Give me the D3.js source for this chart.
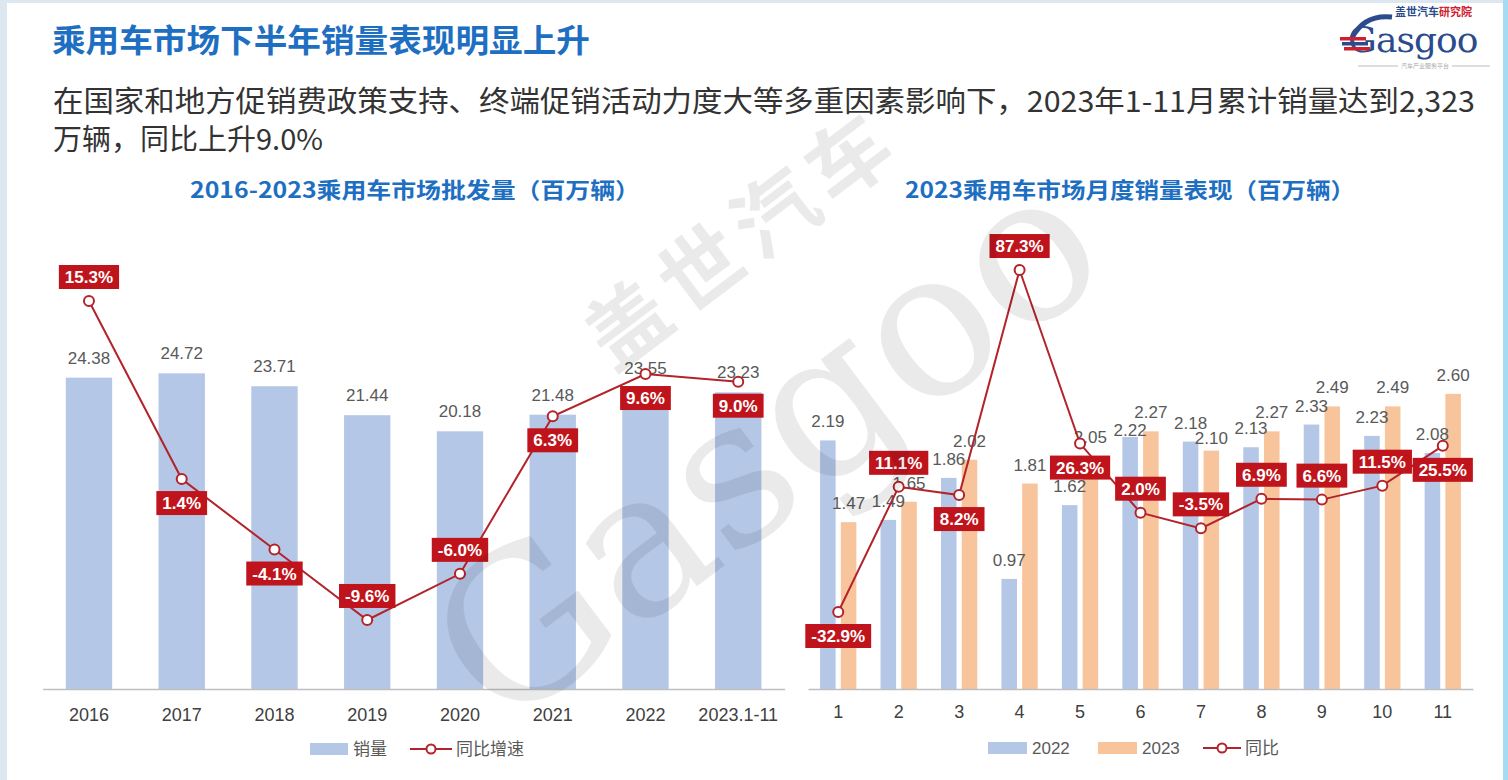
<!DOCTYPE html>
<html><head><meta charset="utf-8">
<script src="https://cdn.jsdelivr.net/npm/d3@7/dist/d3.min.js"></script>
<style>body{margin:0;background:#fff;overflow:hidden} svg{display:block}</style>
</head><body><svg id="c" width="1508" height="780"></svg>
<script>
// ---------- data ----------
const years = ["2016","2017","2018","2019","2020","2021","2022","2023.1-11"];
const yearSales = [24.38,24.72,23.71,21.44,20.18,21.48,23.55,23.23];
const yearGrowth = [15.3,1.4,-4.1,-9.6,-6.0,6.3,9.6,9.0];
const months = ["1","2","3","4","5","6","7","8","9","10","11"];
const sales2022 = [2.19,1.49,1.86,0.97,1.62,2.22,2.18,2.13,2.33,2.23,2.08];
const sales2023 = [1.47,1.65,2.02,1.81,2.05,2.27,2.10,2.27,2.49,2.49,2.60];
const monthGrowth = [-32.9,11.1,8.2,87.3,26.3,2.0,-3.5,6.9,6.6,11.5,25.5];
const seriesNames = ["2022","2023"];
const leftLegend = ["销量","同比增速"];
const rightLegend = ["2022","2023","同比"];
const titleText = "乘用车市场下半年销量表现明显上升";
const subLine1 = "在国家和地方促销费政策支持、终端促销活动力度大等多重因素影响下，2023年1-11月累计销量达到2,323";
const subLine2 = "万辆，同比上升9.0%";
const leftTitle = "2016-2023乘用车市场批发量（百万辆）";
const rightTitle = "2023乘用车市场月度销量表现（百万辆）";
// label placement: -1 above point, +1 below point
const leftLabelSide = [-1,1,1,-1,-1,1,1,1];
const rightLabelSide = [1,-1,1,-1,1,-1,-1,-1,-1,-1,1];

// ---------- style ----------
const NUM = "'Liberation Sans', Arial, 'Noto Sans CJK SC', sans-serif";
const CJK = "'Noto Sans CJK SC', 'Liberation Sans', sans-serif";
const BLUE = "#b4c7e7", ORANGE = "#f8c49c", RED = "#b3232a", BOX = "#c0141c";
const TITLE_BLUE = "#1e6fc2";

const svg = d3.select("#c");
// frame
svg.append("rect").attr("width",1508).attr("height",780).attr("fill","#dce7f0");
svg.append("rect").attr("x",1503).attr("y",0).attr("width",5).attr("height",780).attr("fill","#a6dcf3");
svg.append("rect").attr("x",7).attr("y",3).attr("width",1496).attr("height",777).attr("fill","#ffffff");

// title + subtitle
svg.append("text").attr("x",52).attr("y",52).attr("font-family",CJK).attr("font-weight",700)
  .attr("font-size",32).attr("fill",TITLE_BLUE).attr("textLength",538).attr("lengthAdjust","spacingAndGlyphs").text(titleText);
svg.append("text").attr("x",53).attr("y",112).attr("font-family",CJK)
  .attr("font-size",29).attr("fill","#333").attr("textLength",1422).attr("lengthAdjust","spacingAndGlyphs").text(subLine1);
svg.append("text").attr("x",53).attr("y",150).attr("font-family",CJK)
  .attr("font-size",29).attr("fill","#333").text(subLine2);

// logo
const lg = svg.append("g");
lg.append("path").attr("d","M1352,38 Q1364,14 1392,17").attr("fill","none").attr("stroke","#2b4c8c").attr("stroke-width",5);
lg.append("text").attr("x",1395).attr("y",16).attr("font-family",CJK).attr("font-weight",700).attr("font-size",11)
  .call(t=>{t.append("tspan").attr("fill","#2b4c8c").text("盖世汽车");t.append("tspan").attr("fill","#d0202e").text("研究院");});
lg.append("text").attr("x",1348).attr("y",52).attr("font-family","'DejaVu Serif', serif").attr("font-size",36)
  .attr("fill","#2b4c8c").text("G");
[0,1,2].forEach(i=>lg.append("rect").attr("x",1340+i*2).attr("y",37+i*5).attr("width",26).attr("height",3.5).attr("fill",i===1?"#2b4c8c":"#d0202e"));
lg.append("text").attr("x",1376).attr("y",52).attr("font-family","'DejaVu Serif', serif").attr("font-size",36)
  .attr("fill","#2b4c8c").attr("letter-spacing",-1).text("asgoo");
lg.append("line").attr("x1",1358).attr("x2",1398).attr("y1",66).attr("y2",66).attr("stroke","#bbb");
lg.append("line").attr("x1",1452).attr("x2",1490).attr("y1",66).attr("y2",66).attr("stroke","#bbb");
lg.append("text").attr("x",1425).attr("y",68).attr("text-anchor","middle").attr("font-family",CJK).attr("font-size",6).attr("fill","#aaa").text("汽车产业服务平台");

// chart titles
svg.append("text").attr("x",415).attr("y",198).attr("text-anchor","middle").attr("font-family",CJK).attr("font-weight",700)
  .attr("font-size",22).attr("fill",TITLE_BLUE).attr("textLength",450).attr("lengthAdjust","spacingAndGlyphs").text(leftTitle);
svg.append("text").attr("x",1130).attr("y",198).attr("text-anchor","middle").attr("font-family",CJK).attr("font-weight",700)
  .attr("font-size",22).attr("fill",TITLE_BLUE).attr("textLength",450).attr("lengthAdjust","spacingAndGlyphs").text(rightTitle);

function pctBox(g, x, y, txt, fs){
  const grp = g.append("g");
  const t = grp.append("text").attr("x",x).attr("y",y).attr("dy","0.36em").attr("text-anchor","middle")
    .attr("font-family",NUM).attr("font-weight",700).attr("font-size",fs).attr("fill","#fff").text(txt);
  const w = t.node().getComputedTextLength();
  grp.insert("rect","text").attr("x",x-w/2-6).attr("y",y-12).attr("width",w+12).attr("height",24).attr("fill",BOX);
}
const fmtPct = v => v.toFixed(1)+"%";

// ---------- left chart ----------
const L = svg.append("g");
const xL = d3.scaleBand().domain(years).range([42.6,784.6]).paddingInner(0.5).paddingOuter(0.25);
const yL = d3.scaleLinear().domain([0,30]).range([689,305.9]);
const y2L = d3.scaleLinear().domain([-10,20]).range([625.1,240.8]);

L.selectAll("rect.bar").data(yearSales).join("rect").attr("class","bar")
  .attr("x",(d,i)=>xL(years[i])).attr("width",xL.bandwidth())
  .attr("y",d=>yL(d)).attr("height",d=>yL(0)-yL(d)).attr("fill",BLUE);
L.selectAll("text.val").data(yearSales).join("text").attr("class","val")
  .attr("x",(d,i)=>xL(years[i])+xL.bandwidth()/2).attr("y",d=>yL(d)-14)
  .attr("text-anchor","middle").attr("font-family",NUM).attr("font-size",17).attr("fill","#595959")
  .text(d=>d.toFixed(2));

const axL = L.append("g").attr("transform","translate(0,689)").call(d3.axisBottom(xL).tickSize(0).tickPadding(19));
axL.select(".domain").attr("stroke","#bfbfbf").attr("stroke-width",1.5);
axL.selectAll("text").attr("font-family",NUM).attr("font-size",18).attr("fill","#404040");

const lineL = d3.line().x((d,i)=>xL(years[i])+xL.bandwidth()/2).y(d=>y2L(d));
L.append("path").datum(yearGrowth).attr("d",lineL).attr("fill","none").attr("stroke",RED).attr("stroke-width",2);
L.selectAll("circle.pt").data(yearGrowth).join("circle").attr("class","pt")
  .attr("cx",(d,i)=>xL(years[i])+xL.bandwidth()/2).attr("cy",d=>y2L(d)).attr("r",5)
  .attr("fill","#fff").attr("stroke",RED).attr("stroke-width",2);
yearGrowth.forEach((d,i)=>pctBox(L, xL(years[i])+xL.bandwidth()/2, y2L(d)+leftLabelSide[i]*24, fmtPct(d), 17));

// left legend
const lgL = svg.append("g");
lgL.append("rect").attr("x",310).attr("y",743).attr("width",38).attr("height",12).attr("fill",BLUE);
lgL.append("text").attr("x",353).attr("y",755).attr("font-family",CJK).attr("font-size",17).attr("fill","#595959").text(leftLegend[0]);
lgL.append("line").attr("x1",410).attr("x2",452).attr("y1",749).attr("y2",749).attr("stroke",RED).attr("stroke-width",2);
lgL.append("circle").attr("cx",431).attr("cy",749).attr("r",4.5).attr("fill","#fff").attr("stroke",RED).attr("stroke-width",2);
lgL.append("text").attr("x",456).attr("y",755).attr("font-family",CJK).attr("font-size",17).attr("fill","#595959").text(leftLegend[1]);

// ---------- right chart ----------
const R = svg.append("g");
const xR = d3.scaleBand().domain(months).range([808,1473]).paddingInner(0.4).paddingOuter(0.2);
const xR1 = d3.scaleBand().domain(seriesNames).range([0,xR.bandwidth()]).paddingInner(0.25);
const yR = d3.scaleLinear().domain([0,3]).range([689,348.5]);
const y2R = d3.scaleLinear().domain([-40,100]).range([632.2,233.9]);
const series = [sales2022, sales2023];
const colors = [BLUE, ORANGE];

series.forEach((s,k)=>{
  R.selectAll("rect.s"+k).data(s).join("rect").attr("class","s"+k)
    .attr("x",(d,i)=>xR(months[i])+xR1(seriesNames[k])).attr("width",xR1.bandwidth())
    .attr("y",d=>yR(d)).attr("height",d=>yR(0)-yR(d)).attr("fill",colors[k]);
});
// value labels; when paired bars are nearly equal, the lower one's label drops toward its bar top
function labelY(k,i){
  const own = yR(series[k][i]), other = yR(series[1-k][i]);
  if (Math.abs(own-other) < 8 && own > other) return own - 1;
  if (Math.abs(own-other) < 11 && own > other) return own - 7;
  return own - 13;
}
series.forEach((s,k)=>{
  R.selectAll("text.v"+k).data(s).join("text").attr("class","v"+k)
    .attr("x",(d,i)=>xR(months[i])+xR1(seriesNames[k])+xR1.bandwidth()/2).attr("y",(d,i)=>labelY(k,i))
    .attr("text-anchor","middle").attr("font-family",NUM).attr("font-size",17).attr("fill","#595959")
    .text(d=>d.toFixed(2));
});

const axR = R.append("g").attr("transform","translate(0,689)").call(d3.axisBottom(xR).tickSize(0).tickPadding(16));
axR.select(".domain").attr("stroke","#bfbfbf").attr("stroke-width",1.5);
axR.selectAll("text").attr("font-family",NUM).attr("font-size",18).attr("fill","#404040");

const cx = i => xR(months[i])+xR.bandwidth()/2;
const lineR = d3.line().x((d,i)=>cx(i)).y(d=>y2R(d));
R.append("path").datum(monthGrowth).attr("d",lineR).attr("fill","none").attr("stroke",RED).attr("stroke-width",2);
R.selectAll("circle.pt").data(monthGrowth).join("circle").attr("class","pt")
  .attr("cx",(d,i)=>cx(i)).attr("cy",d=>y2R(d)).attr("r",5)
  .attr("fill","#fff").attr("stroke",RED).attr("stroke-width",2);
monthGrowth.forEach((d,i)=>pctBox(R, cx(i), y2R(d)+rightLabelSide[i]*24, fmtPct(d), 17));

// right legend
const lgR = svg.append("g");
lgR.append("rect").attr("x",988).attr("y",742).attr("width",39).attr("height",12).attr("fill",BLUE);
lgR.append("text").attr("x",1032).attr("y",754).attr("font-family",NUM).attr("font-size",17).attr("fill","#595959").text(rightLegend[0]);
lgR.append("rect").attr("x",1098).attr("y",742).attr("width",39).attr("height",12).attr("fill",ORANGE);
lgR.append("text").attr("x",1142).attr("y",754).attr("font-family",NUM).attr("font-size",17).attr("fill","#595959").text(rightLegend[1]);
lgR.append("line").attr("x1",1203).attr("x2",1241).attr("y1",748).attr("y2",748).attr("stroke",RED).attr("stroke-width",2);
lgR.append("circle").attr("cx",1222).attr("cy",748).attr("r",4.5).attr("fill","#fff").attr("stroke",RED).attr("stroke-width",2);
lgR.append("text").attr("x",1245).attr("y",754).attr("font-family",CJK).attr("font-size",17).attr("fill","#595959").text(rightLegend[2]);

// watermark (semi-transparent, on top like the reference)
const wm = svg.append("g").attr("opacity",0.08).attr("fill","#000").attr("pointer-events","none");
wm.append("text").attr("transform","translate(760,262) rotate(-37)")
  .attr("text-anchor","middle").attr("font-family",CJK).attr("font-weight",700)
  .attr("font-size",82).attr("letter-spacing",10).text("盖世汽车");
wm.append("text").attr("transform","translate(765,445) rotate(-37)")
  .attr("text-anchor","middle").attr("dy","0.35em").attr("font-family","'DejaVu Serif', serif")
  .attr("font-size",205).text("Gasgoo");
</script></body></html>
